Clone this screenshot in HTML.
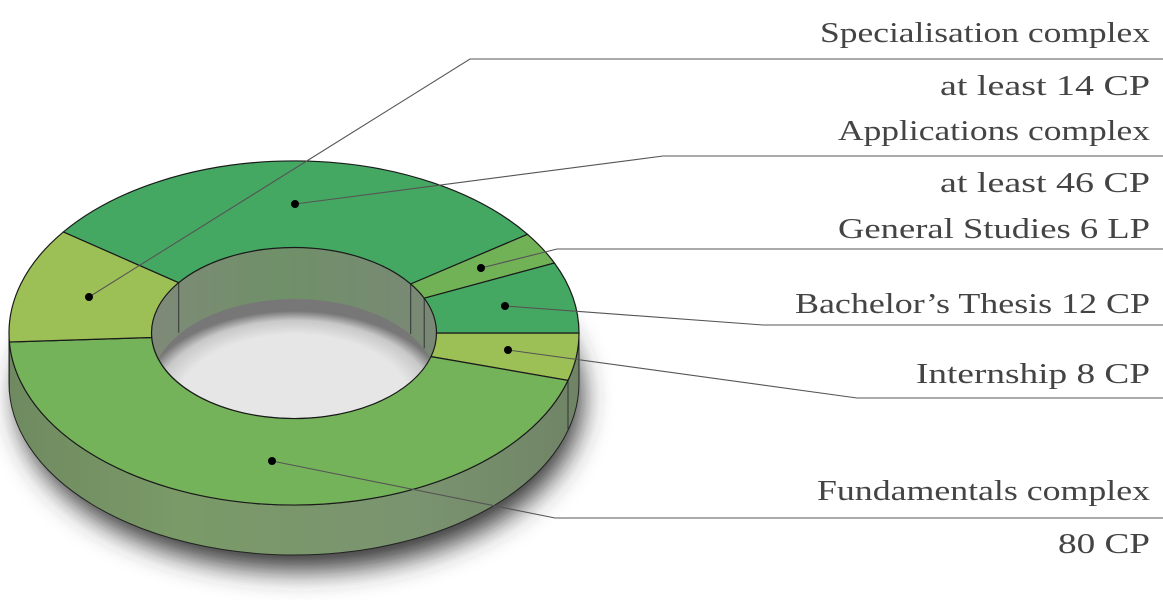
<!DOCTYPE html>
<html><head><meta charset="utf-8"><style>
html,body{margin:0;padding:0;background:#fff;}
svg{display:block;}
text{font-family:"Liberation Serif",serif;font-size:28px;fill:#444;}
</style></head><body>
<svg id="s" width="1163" height="600" viewBox="0 0 1163 600" xmlns="http://www.w3.org/2000/svg">
<defs>
<filter id="blur" x="-30%" y="-30%" width="160%" height="160%"><feGaussianBlur stdDeviation="14"/></filter>
<linearGradient id="side" x1="0" x2="1" y1="0" y2="0">
<stop offset="0" stop-color="#6f8a60"/><stop offset="0.3" stop-color="#7a9a68"/><stop offset="0.7" stop-color="#7b9470"/><stop offset="1" stop-color="#6f8466"/></linearGradient>
<linearGradient id="wall" x1="0" x2="1" y1="0" y2="0">
<stop offset="0" stop-color="#7f8a78"/><stop offset="0.45" stop-color="#6f9068"/><stop offset="1" stop-color="#7a8876"/></linearGradient>
<radialGradient id="floor" cx="0.5" cy="0.62" r="0.55">
<stop offset="0.75" stop-color="#e6e6e6"/><stop offset="0.9" stop-color="#c8c8c8"/><stop offset="1" stop-color="#777"/></radialGradient>
<clipPath id="hole"><ellipse cx="294.5" cy="332.5" rx="142.5" ry="85.5"/></clipPath>
</defs>
<g id="g"></g>
</svg>
<script>
var cx=294,cy=333,RX=285,RY=172,rx=142.5,ry=85.5,H=50;
function P(a,X,Y,dy){var t=a*Math.PI/180;return [(cx+X*Math.cos(t)).toFixed(1),(cy+Y*Math.sin(t)+(dy||0)).toFixed(1)];}
var h='';
// shadow
h+='<ellipse cx="300" cy="398" rx="282" ry="172" fill="#333" filter="url(#blur)"/>';
// side wall
var a=P(0,RX,RY),b=P(180,RX,RY);
h+='<path d="M'+a+' A'+RX+' '+RY+' 0 0 1 '+b+' L'+b[0]+' '+(+b[1]+H)+' A'+RX+' '+RY+' 0 0 0 '+a[0]+' '+(+a[1]+H)+' Z" fill="url(#side)" stroke="#222" stroke-width="1"/>';
[16,177].forEach(function(d){var p=P(d,RX,RY);h+='<line x1="'+p[0]+'" y1="'+p[1]+'" x2="'+p[0]+'" y2="'+(+p[1]+H)+'" stroke="#333" stroke-width="1"/>';});
// hole
h+='<ellipse cx="294.5" cy="332.5" rx="142.5" ry="85.5" fill="url(#wall)"/>';
h+='<g clip-path="url(#hole)"><ellipse cx="294.5" cy="384.5" rx="142.5" ry="85.5" fill="url(#floor)"/>';
[216,325,336].forEach(function(d){var p=P(d,rx,ry);h+='<line x1="'+p[0]+'" y1="'+p[1]+'" x2="'+p[0]+'" y2="'+(+p[1]+H)+'" stroke="#333" stroke-width="1"/>';});
h+='</g>';
// segments
var segs=[[0,16,'#9dc056'],[16,177,'#75b35b'],[177,216,'#9dc056'],[216,325,'#45a862'],[325,336,'#72b257'],[336,360,'#45a862']];
segs.forEach(function(s){var o0=P(s[0],RX,RY),o1=P(s[1],RX,RY),i0=P(s[0],rx,ry),i1=P(s[1],rx,ry);var L=(s[1]-s[0])>180?1:0;
h+='<path d="M'+o0+' A'+RX+' '+RY+' 0 '+L+' 1 '+o1+' L'+i1+' A'+rx+' '+ry+' 0 '+L+' 0 '+i0+' Z" fill="'+s[2]+'" stroke="#1a1a1a" stroke-width="1.2"/>';});
// leaders
var L=[[89,297,470,59],[295,204,663,156],[481,268,557,249],[505,306,763,325],[508,350,857,398],[272,461,555,518]];
L.forEach(function(l){h+='<polyline points="'+l[0]+','+l[1]+' '+l[2]+','+l[3]+' 1163,'+l[3]+'" fill="none" stroke="#555" stroke-width="1.1"/><circle cx="'+l[0]+'" cy="'+l[1]+'" r="4" fill="#000"/>';});
var T=[["Specialisation complex",42,330],["at least 14 CP",95,210],["Applications complex",140,312],["at least 46 CP",192,210],["General Studies 6 LP",238,312],["Bachelor\u2019s Thesis 12 CP",313,355],["Internship 8 CP",383,234],["Fundamentals complex",500,333],["80 CP",553,92]];
T.forEach(function(t){h+='<text x="1150" y="'+t[1]+'" text-anchor="end" textLength="'+t[2]+'" lengthAdjust="spacingAndGlyphs">'+t[0]+'</text>';});
document.getElementById('g').innerHTML=h;
</script>
</body></html>
